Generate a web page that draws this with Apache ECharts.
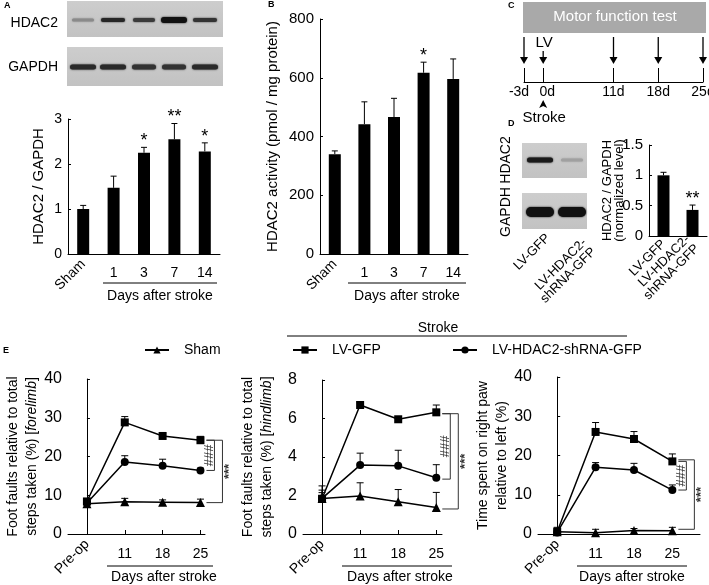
<!DOCTYPE html>
<html><head><meta charset="utf-8">
<script src="https://cdn.jsdelivr.net/npm/echarts@6/dist/echarts.min.js"></script>
<style>html,body{margin:0;padding:0;background:#fff}#c{width:709px;height:585px}</style>
</head><body><div id="c"></div>
<script>
// ---------- Panel A: HDAC2 / GAPDH ----------
const aCats = ['Sham', '1', '3', '7', '14'];
const aValues = [1.0, 1.47, 2.25, 2.55, 2.28];
const aErr = [0.08, 0.26, 0.12, 0.35, 0.19];
const aSig = ['', '', '*', '**', '*'];
// ---------- Panel B: HDAC2 activity ----------
const bCats = ['Sham', '1', '3', '7', '14'];
const bValues = [340, 442, 466, 617, 596];
const bErr = [11, 76, 64, 36, 68];
const bSig = ['', '', '', '*', ''];
// ---------- Panel C: timeline ----------
const cDays = [-3, 0, 11, 18, 25];
const cDayLabels = ['-3d', '0d', '11d', '18d', '25d'];
const cTestDays = [-3, 11, 18, 25];
const cLvDay = 0;
const cStrokeDay = 0;
// ---------- Panel D: knockdown ----------
const dCats = ['LV-GFP', 'LV-HDAC2-\nshRNA-GFP'];
const dValues = [1.0, 0.43];
const dErr = [0.05, 0.08];
const dSig = ['', '**'];
// ---------- Panel E ----------
const eCats = ['Pre-op', '11', '18', '25'];
const eNames = ['Sham', 'LV-GFP', 'LV-HDAC2-shRNA-GFP'];
// forelimb foot faults (%)
const e1Sham = [7.8, 8.3, 8.2, 8.1];   const e1ShamErr = [0.5, 0.9, 0.6, 0.9];
const e1Gfp  = [8.4, 28.8, 25.3, 24.2]; const e1GfpErr  = [0.5, 1.5, 0.7, 1.0];
const e1Sh   = [8.0, 18.6, 17.6, 16.4]; const e1ShErr   = [0.4, 1.6, 1.7, 0.6];
const e1Br   = [[3, 24.2, 16.4, '###'], [3, 24.2, 8.1, '***']];
// hindlimb foot faults (%)
const e2Sham = [1.85, 1.97, 1.68, 1.38]; const e2ShamErr = [0.65, 0.69, 0.63, 0.78];
const e2Gfp  = [1.83, 6.7, 5.96, 6.32];  const e2GfpErr  = [0.45, 0.16, 0.12, 0.38];
const e2Sh   = [1.85, 3.58, 3.54, 2.92]; const e2ShErr   = [0.3, 0.62, 0.81, 0.68];
const e2Br   = [[3, 6.25, 2.85, '###'], [3, 6.25, 1.3, '***']];
// time on right paw (%)
const e3Sham = [0.6, 0.3, 0.9, 0.8];    const e3ShamErr = [0.6, 0.9, 0.5, 0.9];
const e3Gfp  = [0.6, 26.0, 24.2, 18.5]; const e3GfpErr  = [1.1, 2.4, 1.9, 1.9];
const e3Sh   = [0.4, 17.0, 16.3, 11.2]; const e3ShErr   = [0.4, 1.2, 1.7, 1.3];
const e3Br   = [[3, 18.5, 11.2, '###'], [3, 18.9, 1.2, '***']];

const FONT = '"Liberation Sans", Arial, Helvetica, sans-serif';
const K = '#000';
const chart = echarts.init(document.getElementById('c'));

function grid(left, top, width, height) {
  return { left, top, width, height, containLabel: false, outerBoundsMode: 'none', show: false };
}
function yAx(gi, min, max, interval, fs, name, nameGap, nameStyle) {
  return {
    type: 'value', gridIndex: gi, min, max, interval,
    axisLine: { show: true, lineStyle: { color: K, width: 1 } },
    axisTick: { show: true, inside: true, length: 3, lineStyle: { color: K } },
    splitLine: { show: false },
    axisLabel: { color: K, fontSize: fs, fontFamily: FONT, margin: 6 },
    name, nameLocation: 'middle', nameRotate: 90, nameGap, nameMoveOverlap: false,
    nameTextStyle: nameStyle || { color: K, fontSize: 15, fontFamily: FONT }
  };
}
function catAxes(gi, cats, fs, margin) {
  return [
    { type: 'category', gridIndex: gi, data: cats, position: 'bottom',
      axisLine: { show: true, lineStyle: { color: K } }, axisTick: { show: false },
      axisLabel: { interval: 0, rotate: 45, margin: 8, color: K, fontSize: 14, fontFamily: FONT,
        formatter: (v, i) => i === 0 ? v : '' } },
    { type: 'category', gridIndex: gi, data: cats, position: 'bottom',
      axisLine: { show: false }, axisTick: { show: false },
      axisLabel: { interval: 0, margin: margin, color: K, fontSize: fs, fontFamily: FONT,
        formatter: (v, i) => i === 0 ? '' : v } }
  ];
}
function eXAxes(gi, max) {
  const fmt = v => eCats[Math.round(v)];
  return [
    { type: 'value', gridIndex: gi, min: -0.5, max, position: 'bottom',
      axisLine: { show: true, onZero: false, lineStyle: { color: K } },
      axisTick: { show: true, inside: true, length: 4, customValues: [0, 1, 2, 3], lineStyle: { color: K } },
      splitLine: { show: false },
      axisLabel: { customValues: [0], rotate: 45, margin: 8, color: K, fontSize: 14, fontFamily: FONT, formatter: fmt } },
    { type: 'value', gridIndex: gi, min: -0.5, max, position: 'bottom',
      axisLine: { show: false }, axisTick: { show: false }, splitLine: { show: false },
      axisLabel: { customValues: [1, 2, 3], margin: 13, color: K, fontSize: 14, fontFamily: FONT, formatter: fmt } }
  ];
}
function errBars(xi, yi, xs, vals, errs, sigs, capHalf) {
  return {
    type: 'custom', xAxisIndex: xi, yAxisIndex: yi, silent: true, z: 4,
    data: vals.map((v, i) => [xs ? xs[i] : i, v, errs[i]]),
    renderItem(params, api) {
      const i = params.dataIndex;
      const x = api.value(0), v = api.value(1), e = api.value(2);
      const p0 = api.coord([x, v]), p1 = api.coord([x, v + e]);
      const ch = [
        { type: 'line', shape: { x1: p0[0], y1: p0[1], x2: p1[0], y2: p1[1] }, style: { stroke: K, lineWidth: 1 } },
        { type: 'line', shape: { x1: p1[0] - capHalf, y1: p1[1], x2: p1[0] + capHalf, y2: p1[1] }, style: { stroke: K, lineWidth: 1 } }
      ];
      if (sigs && sigs[i]) ch.push({ type: 'text', style: { text: sigs[i], x: p1[0], y: p1[1] + 3, align: 'center', verticalAlign: 'bottom', font: '18px ' + FONT, fill: K } });
      return { type: 'group', children: ch };
    }
  };
}
function brackets(xi, yi, data) {
  return {
    type: 'custom', xAxisIndex: xi, yAxisIndex: yi, silent: true, z: 4,
    data: data.map(d => [d[0], d[1], d[2]]),
    renderItem(params, api) {
      const j = params.dataIndex, d = data[j];
      const pT = api.coord([api.value(0), api.value(1)]), pB = api.coord([api.value(0), api.value(2)]);
      const vx = pT[0] + (j === 0 ? 14 : 22), hx = pT[0] + 6;
      const tx = j === 0 ? vx - 5 : vx + 7;
      const st = { stroke: '#333', lineWidth: 1 };
      return { type: 'group', children: [
        { type: 'line', shape: { x1: hx, y1: pT[1], x2: vx, y2: pT[1] }, style: st },
        { type: 'line', shape: { x1: vx, y1: pT[1], x2: vx, y2: pB[1] }, style: st },
        { type: 'line', shape: { x1: hx, y1: pB[1], x2: vx, y2: pB[1] }, style: st },
        { type: 'text', x: tx, y: (pT[1] + pB[1]) / 2, rotation: Math.PI / 2,
          style: { text: d[3], x: 0, y: 0, align: 'center', verticalAlign: 'middle', font: (j === 0 ? '13px ' : 'bold 13px ') + FONT, fill: '#333' } }
      ] };
    }
  };
}
function lineSeries(name, xi, yi, vals, symbol, size) {
  return { type: 'line', name, xAxisIndex: xi, yAxisIndex: yi, data: vals.map((v, i) => [i, v]),
    symbol, symbolSize: size, showSymbol: true, z: 5,
    itemStyle: { color: K, borderWidth: 0 }, lineStyle: { color: K, width: 1.5 } };
}
function eSet(xi, yi, sham, shamE, gfp, gfpE, sh, shE, br) {
  return [
    errBars(xi, yi, [0, 1, 2, 3], sham, shamE, null, 3.5),
    errBars(xi, yi, [0, 1, 2, 3], gfp, gfpE, null, 3.5),
    errBars(xi, yi, [0, 1, 2, 3], sh, shE, null, 3.5),
    lineSeries(eNames[0], xi, yi, sham, 'triangle', 9),
    lineSeries(eNames[2], xi, yi, sh, 'circle', 8),
    lineSeries(eNames[1], xi, yi, gfp, 'rect', 8),
    brackets(xi, yi, br)
  ];
}
const eNameRich = { a: { fontSize: 14, fontFamily: FONT, color: K, lineHeight: 19 },
                    b: { fontSize: 14, fontFamily: FONT, color: K, fontStyle: 'italic', lineHeight: 19 } };
const eNameStyle = { rich: eNameRich, align: 'center' };

// ---------- graphics (blots, timeline decorations, labels) ----------
function band(cx, cy, w, h, color, blur) {
  return { type: 'rect', shape: { x: cx - w / 2, y: cy - h / 2, width: w, height: h, r: h / 2 },
    style: { fill: color, shadowBlur: blur, shadowColor: color } };
}
function txt(x, y, text, font, align, extra) {
  return Object.assign({ type: 'text', x, y, style: { text, font: font + ' ' + FONT, fill: K, align: align || 'center', verticalAlign: 'middle' } }, extra || {});
}
function hline(x1, x2, y, color) {
  return { type: 'line', shape: { x1, y1: y, x2, y2: y }, style: { stroke: color || K, lineWidth: 1 } };
}
const blotGrad = { type: 'linear', x: 0, y: 0, x2: 0, y2: 1, colorStops: [{ offset: 0, color: '#cdcdcd' }, { offset: 1, color: '#c2c2c2' }] };
const aLanes = [83, 113, 144, 174, 205];
const graphics = [
  // panel letters
  txt(4, 6, 'A', 'bold 9px', 'left'), txt(268, 5, 'B', 'bold 9px', 'left'), txt(508, 6, 'C', 'bold 9px', 'left'),
  txt(508, 124, 'D', 'bold 9px', 'left'), txt(3, 351, 'E', 'bold 9px', 'left'),
  // panel A blots
  { type: 'rect', shape: { x: 67, y: 1, width: 156, height: 36 }, style: { fill: blotGrad } },
  { type: 'rect', shape: { x: 67, y: 47, width: 156, height: 39 }, style: { fill: blotGrad } },
  band(aLanes[0], 20, 22, 3, '#8a8a8a', 2), band(aLanes[1], 20, 24, 4, '#262626', 2),
  band(aLanes[2], 20, 22, 4, '#3a3a3a', 2), band(aLanes[3], 20, 26, 6, '#111', 2),
  band(aLanes[4], 20, 24, 4, '#333', 2),
  band(aLanes[0], 67, 26, 5, '#2a2a2a', 2), band(aLanes[1], 67, 26, 5, '#2a2a2a', 2),
  band(aLanes[2], 67, 24, 5, '#333', 2), band(aLanes[3], 67, 24, 5, '#333', 2), band(aLanes[4], 67, 26, 5, '#2a2a2a', 2),
  txt(58, 23, 'HDAC2', '14px', 'right'), txt(58, 67, 'GAPDH', '14px', 'right'),
  // A/B x-axis group labels
  hline(103, 217, 283), txt(160, 296, 'Days after stroke', '14px'),
  hline(348, 466, 283), txt(407, 296, 'Days after stroke', '14px'),
  // panel C box
  { type: 'rect', shape: { x: 523, y: 2, width: 183, height: 31 }, style: { fill: '#a9a9a9' } },
  { type: 'text', x: 615, y: 17, style: { text: 'Motor function test', font: '15px ' + FONT, fill: '#fff', align: 'center', verticalAlign: 'middle' } },
  // panel D blots
  { type: 'rect', shape: { x: 522, y: 143, width: 65, height: 35 }, style: { fill: blotGrad } },
  { type: 'rect', shape: { x: 522, y: 193, width: 65, height: 36 }, style: { fill: blotGrad } },
  band(540, 160, 26, 5, '#1a1a1a', 2), band(572, 160, 22, 3, '#a0a0a0', 2),
  band(540, 212, 28, 10, '#111', 2), band(572, 212, 28, 10, '#111', 2),
  txt(506, 160, 'HDAC2', '14px', 'center', { rotation: Math.PI / 2 }),
  txt(506, 212, 'GAPDH', '14px', 'center', { rotation: Math.PI / 2 }),
  { type: 'text', x: 548, y: 236, rotation: Math.PI / 4, style: { text: 'LV-GFP', font: '13px ' + FONT, fill: K, align: 'right', verticalAlign: 'middle' } },
  { type: 'text', x: 580, y: 236, rotation: Math.PI / 4, style: { text: 'LV-HDAC2-\nshRNA-GFP', font: '13px ' + FONT, fill: K, align: 'right', verticalAlign: 'top', lineHeight: 13 } },
  // panel E decorations
  txt(438, 328, 'Stroke', '14px'), hline(287, 627, 336),
  hline(107, 213, 566), txt(164, 577, 'Days after stroke', '14px'),
  hline(342, 452, 566), txt(400, 577, 'Days after stroke', '14px'),
  hline(577, 687, 566), txt(632, 577, 'Days after stroke', '14px')
];

const option = {
  animation: false,
  backgroundColor: '#fff',
  textStyle: { fontFamily: FONT, color: K },
  grid: [
    grid(68, 119, 152, 135),   // A
    grid(320, 19, 148, 235),   // B
    grid(524, 37, 179, 45),    // C
    grid(649, 145, 58, 91),    // D
    grid(68, 379, 137, 155),   // E1
    grid(303, 380, 139, 154),  // E2
    grid(538, 377, 162, 157)   // E3
  ],
  xAxis: [
    ...catAxes(0, aCats, 14, 12),
    ...catAxes(1, bCats, 14, 12),
    { type: 'value', gridIndex: 2, min: -3, max: 25, position: 'bottom',
      axisLine: { show: true, onZero: false, lineStyle: { color: K } },
      axisTick: { show: true, inside: true, length: 14, customValues: cDays, lineStyle: { color: K } },
      splitLine: { show: false },
      axisLabel: { customValues: cDays, margin: 3, color: K, fontSize: 14, fontFamily: FONT,
        formatter: v => { const i = cDays.indexOf(v); return i === 0 ? '{l|' + cDayLabels[i] + '}' : (i === 1 ? '{r|' + cDayLabels[i] + '}' : cDayLabels[i]); },
        rich: { l: { fontSize: 14, fontFamily: FONT, color: K, padding: [0, 10, 0, 0] },
                r: { fontSize: 14, fontFamily: FONT, color: K, padding: [0, 0, 0, 8] } } } },
    { type: 'category', gridIndex: 3, data: dCats, position: 'bottom',
      axisLine: { show: true, lineStyle: { color: K } }, axisTick: { show: false },
      axisLabel: { interval: 0, rotate: 45, margin: 6, color: K, fontSize: 13, lineHeight: 13, fontFamily: FONT } },
    ...eXAxes(4, 3.12), ...eXAxes(5, 3.15), ...eXAxes(6, 3.72)
  ],
  yAxis: [
    yAx(0, 0, 3, 1, 14, 'HDAC2 / GAPDH', 22),
    yAx(1, 0, 800, 200, 15, 'HDAC2 activity (pmol / mg protein)', 40),
    { type: 'value', gridIndex: 2, min: 0, max: 1, show: false },
    yAx(3, 0, 1.5, 0.5, 15, 'HDAC2 / GAPDH\n(normalized level)', 24,
        { color: K, fontSize: 13, fontFamily: FONT, lineHeight: 12, align: 'center' }),
    yAx(4, 0, 40, 10, 16, '{a|Foot faults relative to total}\n{a|steps taken (%) [}{b|forelimb}{a|]}', 26, eNameStyle),
    yAx(5, 0, 8, 2, 16, '{a|Foot faults relative to total}\n{a|steps taken (%) [}{b|hindlimb}{a|]}', 26, eNameStyle),
    yAx(6, 0, 40, 10, 16, '{a|Time spent on right paw}\n{a|relative to left (%)}', 26, eNameStyle)
  ],
  legend: [
    { data: [eNames[0]], left: 144, top: 343 },
    { data: [eNames[1]], left: 292, top: 343 },
    { data: [eNames[2]], left: 452, top: 343 }
  ].map(l => Object.assign(l, { orient: 'horizontal', padding: 0, itemWidth: 24, itemHeight: 9, selectedMode: false,
    textStyle: { color: K, fontSize: 14, fontFamily: FONT, padding: [0, 0, 0, 10] } })),
  series: [
    // A
    { type: 'bar', xAxisIndex: 0, yAxisIndex: 0, data: aValues, barWidth: 12, itemStyle: { color: K } },
    errBars(0, 0, null, aValues, aErr, aSig, 3),
    // B
    { type: 'bar', xAxisIndex: 2, yAxisIndex: 1, data: bValues, barWidth: 12, itemStyle: { color: K } },
    errBars(2, 1, null, bValues, bErr, bSig, 3),
    // C arrows
    { type: 'custom', xAxisIndex: 4, yAxisIndex: 2, silent: true,
      data: cTestDays.map(d => [d, 1]),
      renderItem(params, api) {
        const top = api.coord([api.value(0), 1]), base = api.coord([api.value(0), 0]);
        const tip = base[1] - 18, x = top[0];
        return { type: 'group', children: [
          { type: 'line', shape: { x1: x, y1: top[1], x2: x, y2: tip - 5 }, style: { stroke: K, lineWidth: 1.3 } },
          { type: 'polygon', shape: { points: [[x - 4, tip - 7], [x + 4, tip - 7], [x, tip]] }, style: { fill: K } }
        ] };
      } },
    { type: 'custom', xAxisIndex: 4, yAxisIndex: 2, silent: true,
      data: [[cLvDay, 1]],
      renderItem(params, api) {
        const base = api.coord([api.value(0), 0]);
        const tip = base[1] - 18, x = base[0];
        return { type: 'group', children: [
          { type: 'text', style: { text: 'LV', x: x + 1, y: tip - 21, font: '15px ' + FONT, fill: K, align: 'center', verticalAlign: 'middle' } },
          { type: 'line', shape: { x1: x, y1: tip - 13, x2: x, y2: tip - 5 }, style: { stroke: K, lineWidth: 1.3 } },
          { type: 'polygon', shape: { points: [[x - 4, tip - 7], [x + 4, tip - 7], [x, tip]] }, style: { fill: K } }
        ] };
      } },
    { type: 'custom', xAxisIndex: 4, yAxisIndex: 2, silent: true,
      data: [[cStrokeDay, 0]],
      renderItem(params, api) {
        const base = api.coord([api.value(0), 0]);
        const x = base[0], y = base[1];
        return { type: 'group', children: [
          { type: 'polygon', shape: { points: [[x, y + 18], [x - 4, y + 26], [x, y + 24], [x + 4, y + 26]] }, style: { fill: K } },
          { type: 'text', style: { text: 'Stroke', x: x + 1, y: y + 36, font: '15px ' + FONT, fill: K, align: 'center', verticalAlign: 'middle' } }
        ] };
      } },
    // D
    { type: 'bar', xAxisIndex: 5, yAxisIndex: 3, data: dValues, barWidth: 12, itemStyle: { color: K } },
    errBars(5, 3, null, dValues, dErr, dSig, 3),
    // E
    ...eSet(6, 4, e1Sham, e1ShamErr, e1Gfp, e1GfpErr, e1Sh, e1ShErr, e1Br),
    ...eSet(8, 5, e2Sham, e2ShamErr, e2Gfp, e2GfpErr, e2Sh, e2ShErr, e2Br),
    ...eSet(10, 6, e3Sham, e3ShamErr, e3Gfp, e3GfpErr, e3Sh, e3ShErr, e3Br)
  ],
  graphic: { elements: graphics }
};
chart.setOption(option);
</script>
</body></html>
